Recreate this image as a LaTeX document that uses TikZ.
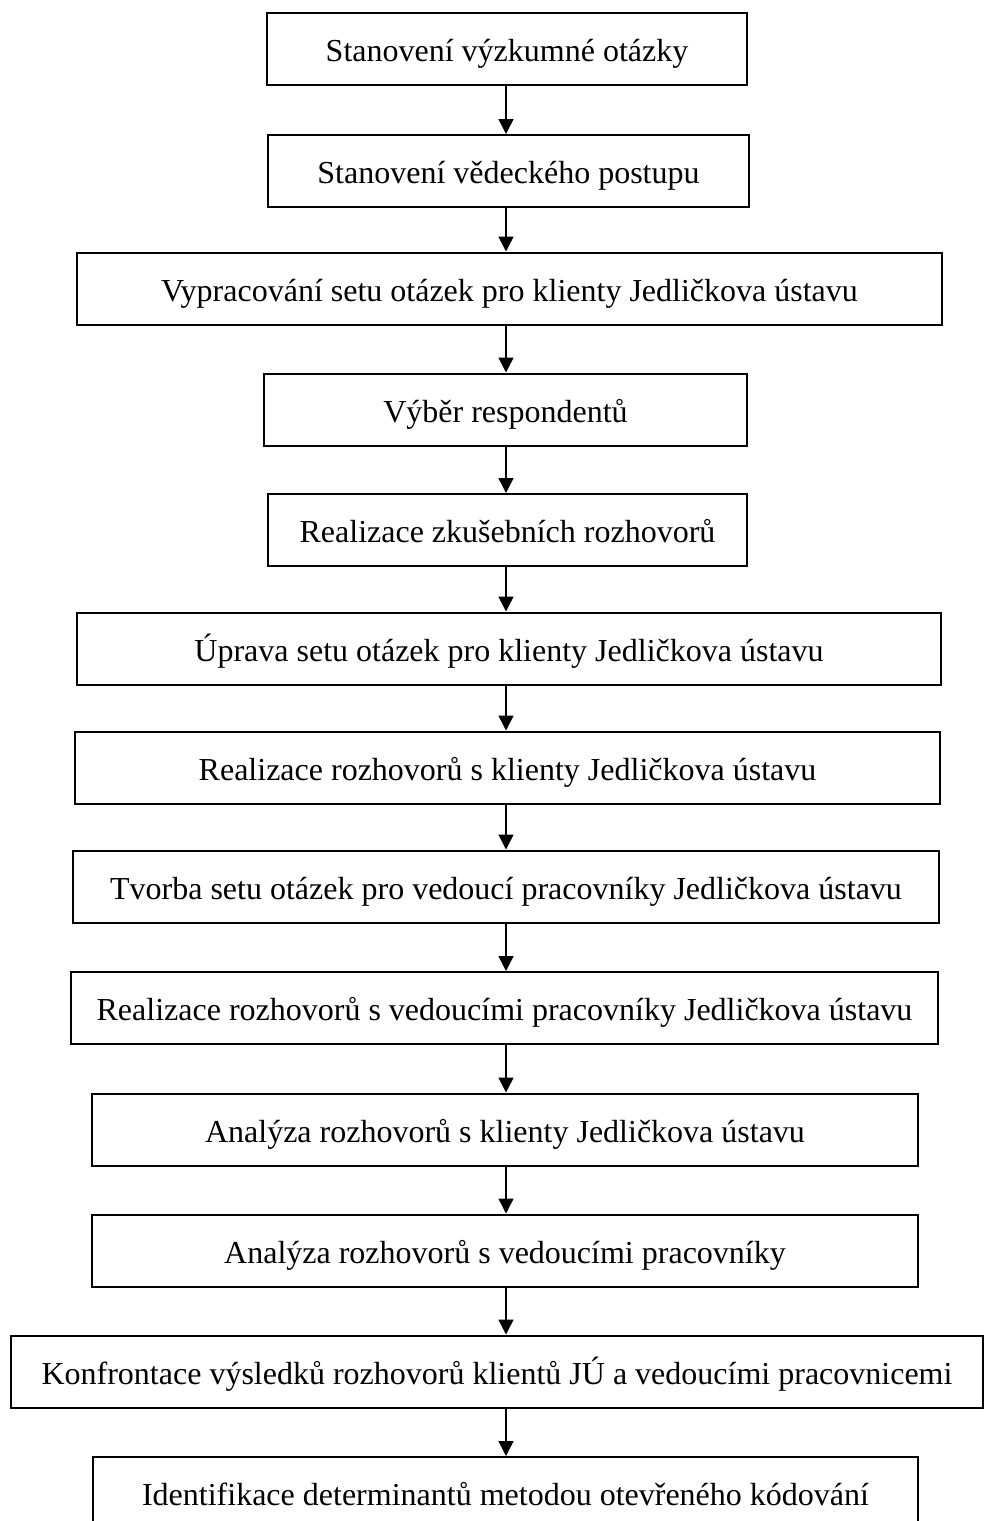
\documentclass[tikz,border=0pt]{standalone}
\usepackage{fontspec}
\setmainfont{Liberation Serif}
\usepackage{tikz}
\usetikzlibrary{arrows.meta}

\tikzset{
  stage/.style={draw, line width=1pt, minimum height=36pt, inner sep=0pt,
    text height=14pt, text depth=1.3pt, font=\fontsize{16}{19}\selectfont},
  flow/.style={line width=0.75pt, -{Triangle[length=7.5pt,width=7.5pt]}}
}

\begin{document}
\begin{tikzpicture}[x=0.5pt, y=-0.5pt]
     \useasboundingbox (0,0) rectangle (985,1521);
     \coordinate (col) at (506,0);
     \node [stage, minimum width=240pt] (s1) at (507,49) {Stanovení výzkumné otázky};
     \node [stage, minimum width=240.5pt] (s2) at (508.5,171) {Stanovení vědeckého postupu};
     \node [stage, minimum width=432.5pt] (s3) at (509.5,288.5) {Vypracování setu otázek pro klienty Jedličkova ústavu};
     \node [stage, minimum width=241.5pt] (s4) at (505.5,409.5) {Výběr respondentů};
     \node [stage, minimum width=239.5pt] (s5) at (507.5,530) {Realizace zkušebních rozhovorů};
     \node [stage, minimum width=432pt] (s6) at (509,648.5) {Úprava setu otázek pro klienty Jedličkova ústavu};
     \node [stage, minimum width=432.5pt] (s7) at (507.5,767.5) {Realizace rozhovorů s klienty Jedličkova ústavu};
     \node [stage, minimum width=433pt] (s8) at (506,886.5) {Tvorba setu otázek pro vedoucí pracovníky Jedličkova ústavu};
     \node [stage, minimum width=433.5pt] (s9) at (504.5,1008) {Realizace rozhovorů s vedoucími pracovníky Jedličkova ústavu};
     \node [stage, minimum width=413pt] (s10) at (505,1129.5) {Analýza rozhovorů s klienty Jedličkova ústavu};
     \node [stage, minimum width=413pt] (s11) at (505,1250.5) {Analýza rozhovorů s vedoucími pracovníky};
     \node [stage, minimum width=486pt] (s12) at (497,1371.5) {Konfrontace výsledků rozhovorů klientů JÚ a vedoucími pracovnicemi};
     \node [stage, minimum width=412.5pt] (s13) at (505.5,1493) {Identifikace determinantů metodou otevřeného kódování};
     \draw [flow] (s1.south -| col) -- (s2.north -| col);
     \draw [flow] (s2.south -| col) -- (s3.north -| col);
     \draw [flow] (s3.south -| col) -- (s4.north -| col);
     \draw [flow] (s4.south -| col) -- (s5.north -| col);
     \draw [flow] (s5.south -| col) -- (s6.north -| col);
     \draw [flow] (s6.south -| col) -- (s7.north -| col);
     \draw [flow] (s7.south -| col) -- (s8.north -| col);
     \draw [flow] (s8.south -| col) -- (s9.north -| col);
     \draw [flow] (s9.south -| col) -- (s10.north -| col);
     \draw [flow] (s10.south -| col) -- (s11.north -| col);
     \draw [flow] (s11.south -| col) -- (s12.north -| col);
     \draw [flow] (s12.south -| col) -- (s13.north -| col);
\end{tikzpicture}
\end{document}
